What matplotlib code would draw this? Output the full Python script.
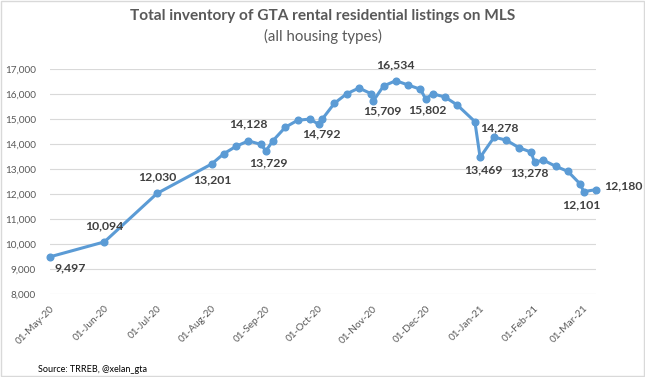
import datetime as dt
import matplotlib.pyplot as plt
import matplotlib.dates as mdates
from matplotlib.patches import Rectangle

plt.rcParams['font.family'] = ['Lato', 'DejaVu Sans']

# Fechas (2020-2021) y listados activos
dates = [
    "2020-05-01", "2020-06-01", "2020-07-01", "2020-08-01", "2020-08-08",
    "2020-08-15", "2020-08-22", "2020-08-29", "2020-09-01", "2020-09-05",
    "2020-09-12", "2020-09-19", "2020-09-26", "2020-10-01", "2020-10-03",
    "2020-10-10", "2020-10-17", "2020-10-24", "2020-10-31", "2020-11-01",
    "2020-11-07", "2020-11-14", "2020-11-21", "2020-11-28", "2020-12-01",
    "2020-12-05", "2020-12-12", "2020-12-19", "2020-12-29", "2021-01-01",
    "2021-01-09", "2021-01-16", "2021-01-23", "2021-01-30", "2021-02-01",
    "2021-02-06", "2021-02-13", "2021-02-20", "2021-02-27", "2021-03-01",
    "2021-03-08",
]
listings = [
    9497, 10094, 12030, 13201, 13615,
    13911, 14128, 13990, 13729, 14135,
    14670, 14950, 15000, 14792, 14990,
    15630, 16010, 16240, 16010, 15709,
    16320, 16534, 16360, 16190, 15802,
    16010, 15880, 15560, 14900, 13469,
    14278, 14155, 13860, 13680, 13278,
    13360, 13115, 12910, 12405, 12101,
    12180,
]
# puntos con etiqueta de valor
labelled = ["2020-05-01", "2020-06-01", "2020-07-01", "2020-08-01", "2020-08-22",
            "2020-09-01", "2020-10-01", "2020-11-01", "2020-11-14", "2020-12-01",
            "2021-01-01", "2021-01-09", "2021-02-01", "2021-03-01", "2021-03-08"]

# desplazamiento de cada etiqueta en pixeles
offsets = [(20, -11), (0, 16), (0, 17), (1, -16), (0, 17),
           (2, -12), (3, -10), (9, -10), (0, 16), (2, -11),
           (3, -12), (5, 9), (-5, -11), (-2, -13), (27, 4)]

x = [dt.datetime.strptime(d, "%Y-%m-%d") for d in dates]

fig = plt.figure(figsize=(6.45, 3.77), dpi=100)
ax = fig.add_axes([0.0775, 0.2194, 0.8465, 0.5976])

ax.plot(x, listings, color='#5B9BD5', linewidth=2.2, marker='o',
        markersize=4.8, zorder=3, clip_on=False)

for d, (dx, dy) in zip(labelled, offsets):
    i = dates.index(d)
    ax.annotate(f"{listings[i]:,}", xy=(x[i], listings[i]), xytext=(dx, dy),
                textcoords='offset pixels', ha='center', va='center',
                fontsize=8.8, fontweight='bold', color='#404040', zorder=4)

ax.set_ylim(8000, 17000)
ax.set_yticks(range(8000, 17001, 1000))
ax.yaxis.set_major_formatter(plt.FuncFormatter(lambda v, p: f"{int(v):,}"))
ax.set_xlim(x[0], x[-1])
ax.xaxis.set_major_locator(mdates.MonthLocator(bymonthday=1))
ax.xaxis.set_major_formatter(mdates.DateFormatter('%d-%b-%y'))

ax.grid(axis='y', color='#D9D9D9', linewidth=0.8)
ax.set_axisbelow(True)
for s in ax.spines.values():
    s.set_visible(False)
ax.tick_params(axis='both', length=0, labelsize=7.2, colors='#595959')
ax.tick_params(axis='y', pad=10)
ax.tick_params(axis='x', pad=7)
plt.setp(ax.get_xticklabels(), rotation=45, ha='right', rotation_mode='anchor')

fig.text(0.5, 0.958, 'Total inventory of GTA rental residential listings on MLS',
         ha='center', va='center', fontsize=11.1, fontweight='bold', color='#595959')
fig.text(0.5, 0.902, '(all housing types)', ha='center', va='center',
         fontsize=10.8, color='#595959')
fig.text(0.059, 0.021, 'Source: TRREB, @xelan_gta', ha='left', va='center',
         fontsize=6.5, color='black')

fig.patches.append(Rectangle((0.001, 0.002), 0.997, 0.996, transform=fig.transFigure,
                             fill=False, edgecolor='#D9D9D9', linewidth=1))

fig.savefig('out.png', dpi=100)
